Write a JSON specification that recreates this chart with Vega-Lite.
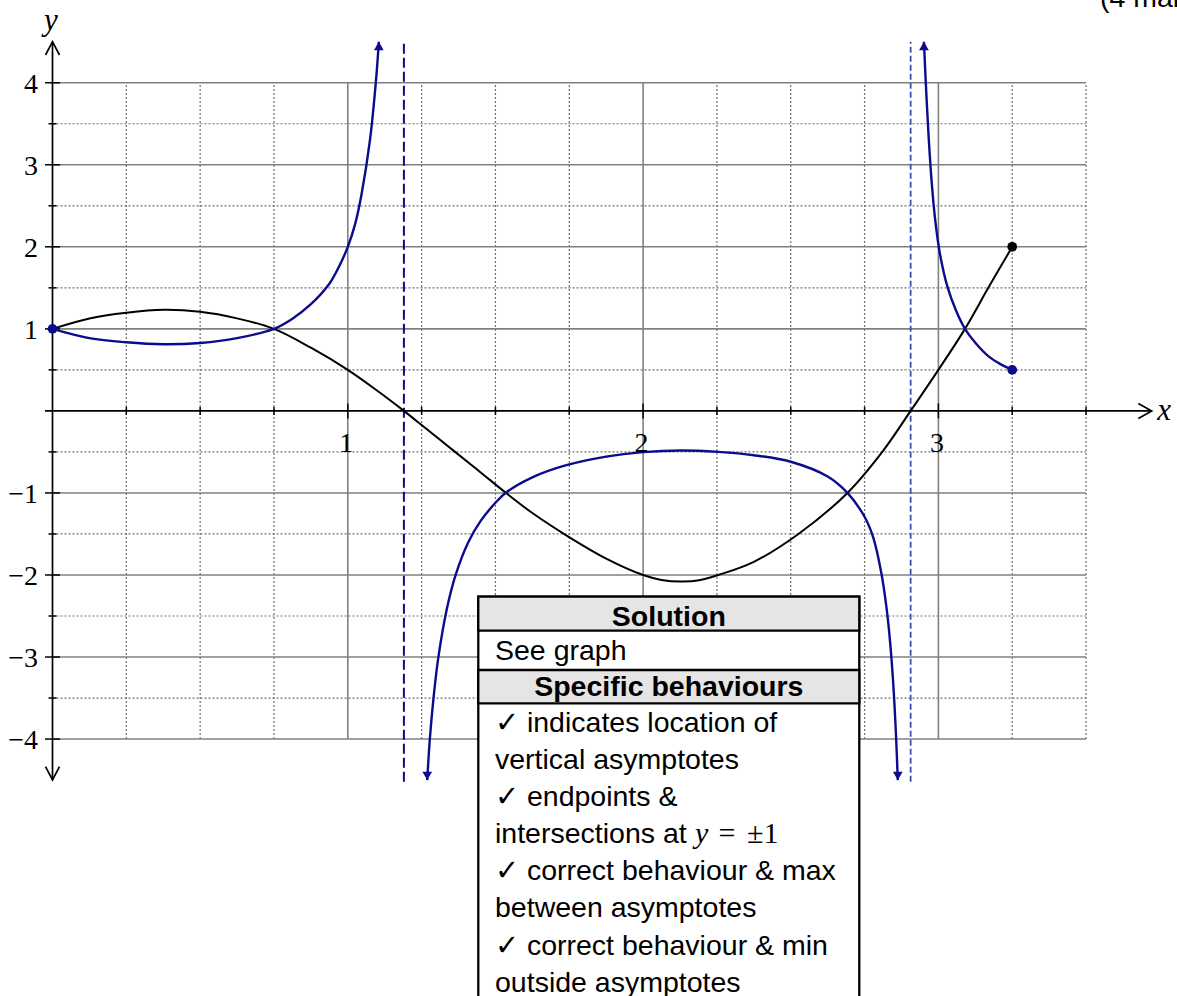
{
  "$schema": "https://vega.github.io/schema/vega-lite/v6.json",
  "width": 1177,
  "height": 996,
  "autosize": {"type": "none"},
  "padding": 0,
  "background": "white",
  "config": {"view": {"stroke": null}},
  "datasets": {
    "gridDot": [
      {"x": 0.25, "x2": 0.25, "y": -4, "y2": 4},
      {"x": 0.5, "x2": 0.5, "y": -4, "y2": 4},
      {"x": 0.75, "x2": 0.75, "y": -4, "y2": 4},
      {"x": 1.25, "x2": 1.25, "y": -4, "y2": 4},
      {"x": 1.5, "x2": 1.5, "y": -4, "y2": 4},
      {"x": 1.75, "x2": 1.75, "y": -4, "y2": 4},
      {"x": 2.25, "x2": 2.25, "y": -4, "y2": 4},
      {"x": 2.5, "x2": 2.5, "y": -4, "y2": 4},
      {"x": 2.75, "x2": 2.75, "y": -4, "y2": 4},
      {"x": 3.25, "x2": 3.25, "y": -4, "y2": 4},
      {"x": 3.5, "x2": 3.5, "y": -4, "y2": 4},
      {"x": 0, "x2": 3.5, "y": -3.5, "y2": -3.5},
      {"x": 0, "x2": 3.5, "y": -2.5, "y2": -2.5},
      {"x": 0, "x2": 3.5, "y": -1.5, "y2": -1.5},
      {"x": 0, "x2": 3.5, "y": -0.5, "y2": -0.5},
      {"x": 0, "x2": 3.5, "y": 0.5, "y2": 0.5},
      {"x": 0, "x2": 3.5, "y": 1.5, "y2": 1.5},
      {"x": 0, "x2": 3.5, "y": 2.5, "y2": 2.5},
      {"x": 0, "x2": 3.5, "y": 3.5, "y2": 3.5}
    ],
    "gridSolid": [
      {"x": 1, "x2": 1, "y": -4, "y2": 4},
      {"x": 2, "x2": 2, "y": -4, "y2": 4},
      {"x": 3, "x2": 3, "y": -4, "y2": 4},
      {"x": 0, "x2": 3.5, "y": -4, "y2": -4},
      {"x": 0, "x2": 3.5, "y": -3, "y2": -3},
      {"x": 0, "x2": 3.5, "y": -2, "y2": -2},
      {"x": 0, "x2": 3.5, "y": -1, "y2": -1},
      {"x": 0, "x2": 3.5, "y": 1, "y2": 1},
      {"x": 0, "x2": 3.5, "y": 2, "y2": 2},
      {"x": 0, "x2": 3.5, "y": 3, "y2": 3},
      {"x": 0, "x2": 3.5, "y": 4, "y2": 4}
    ],
    "ticks": [
      {"x": 0.25, "x2": 0.25, "y": -0.049, "y2": 0.049},
      {"x": 0.5, "x2": 0.5, "y": -0.049, "y2": 0.049},
      {"x": 0.75, "x2": 0.75, "y": -0.049, "y2": 0.049},
      {"x": 1, "x2": 1, "y": -0.0914, "y2": 0.0914},
      {"x": 1.25, "x2": 1.25, "y": -0.049, "y2": 0.049},
      {"x": 1.5, "x2": 1.5, "y": -0.049, "y2": 0.049},
      {"x": 1.75, "x2": 1.75, "y": -0.049, "y2": 0.049},
      {"x": 2, "x2": 2, "y": -0.0914, "y2": 0.0914},
      {"x": 2.25, "x2": 2.25, "y": -0.049, "y2": 0.049},
      {"x": 2.5, "x2": 2.5, "y": -0.049, "y2": 0.049},
      {"x": 2.75, "x2": 2.75, "y": -0.049, "y2": 0.049},
      {"x": 3, "x2": 3, "y": -0.0914, "y2": 0.0914},
      {"x": 3.25, "x2": 3.25, "y": -0.049, "y2": 0.049},
      {"x": 3.5, "x2": 3.5, "y": -0.049, "y2": 0.049},
      {"x": -0.0254, "x2": 0.0254, "y": -4, "y2": -4},
      {"x": -0.0135, "x2": 0.0135, "y": -3.5, "y2": -3.5},
      {"x": -0.0254, "x2": 0.0254, "y": -3, "y2": -3},
      {"x": -0.0135, "x2": 0.0135, "y": -2.5, "y2": -2.5},
      {"x": -0.0254, "x2": 0.0254, "y": -2, "y2": -2},
      {"x": -0.0135, "x2": 0.0135, "y": -1.5, "y2": -1.5},
      {"x": -0.0254, "x2": 0.0254, "y": -1, "y2": -1},
      {"x": -0.0135, "x2": 0.0135, "y": -0.5, "y2": -0.5},
      {"x": -0.0135, "x2": 0.0135, "y": 0.5, "y2": 0.5},
      {"x": -0.0254, "x2": 0.0254, "y": 1, "y2": 1},
      {"x": -0.0135, "x2": 0.0135, "y": 1.5, "y2": 1.5},
      {"x": -0.0254, "x2": 0.0254, "y": 2, "y2": 2},
      {"x": -0.0135, "x2": 0.0135, "y": 2.5, "y2": 2.5},
      {"x": -0.0254, "x2": 0.0254, "y": 3, "y2": 3},
      {"x": -0.0135, "x2": 0.0135, "y": 3.5, "y2": 3.5},
      {"x": -0.0254, "x2": 0.0254, "y": 4, "y2": 4}
    ],
    "axes": [
      {"id": "xa", "o": 0, "x": -0.0254, "y": 0},
      {"id": "xa", "o": 1, "x": 3.7223, "y": 0},
      {"id": "xh", "o": 0, "x": 3.677, "y": 0.0914},
      {"id": "xh", "o": 1, "x": 3.7223, "y": 0},
      {"id": "xh", "o": 2, "x": 3.677, "y": -0.0914},
      {"id": "ya", "o": 0, "x": 0, "y": -4.499},
      {"id": "ya", "o": 1, "x": 0, "y": 4.5},
      {"id": "yt", "o": 0, "x": -0.0237, "y": 4.338},
      {"id": "yt", "o": 1, "x": 0, "y": 4.5},
      {"id": "yt", "o": 2, "x": 0.0237, "y": 4.338},
      {"id": "yb", "o": 0, "x": -0.0237, "y": -4.337},
      {"id": "yb", "o": 1, "x": 0, "y": -4.499},
      {"id": "yb", "o": 2, "x": 0.0237, "y": -4.337}
    ],
    "asymptotes": [
      {"side": "L", "x": 1.19, "y": -4.52, "y2": 4.5},
      {"side": "R", "x": 2.906, "y": -4.52, "y2": 4.5}
    ],
    "f": [
      {"x": 0, "y": 1.0}, {"x": 0.125, "y": 1.127}, {"x": 0.25, "y": 1.196},
      {"x": 0.376, "y": 1.232}, {"x": 0.5, "y": 1.208}, {"x": 0.625, "y": 1.128},
      {"x": 0.75, "y": 1.0}, {"x": 0.875, "y": 0.77}, {"x": 1.0, "y": 0.5},
      {"x": 1.1, "y": 0.245}, {"x": 1.19, "y": 0.0}, {"x": 1.25, "y": -0.172},
      {"x": 1.36, "y": -0.49}, {"x": 1.45, "y": -0.75}, {"x": 1.534, "y": -0.995},
      {"x": 1.625, "y": -1.245}, {"x": 1.737, "y": -1.51}, {"x": 1.875, "y": -1.8},
      {"x": 2.0, "y": -2.0}, {"x": 2.0625, "y": -2.06}, {"x": 2.128, "y": -2.08},
      {"x": 2.19, "y": -2.065}, {"x": 2.255, "y": -2.0}, {"x": 2.375, "y": -1.84},
      {"x": 2.526, "y": -1.5}, {"x": 2.692, "y": -1.0}, {"x": 2.81, "y": -0.5},
      {"x": 2.906, "y": 0.0}, {"x": 3.0, "y": 0.5}, {"x": 3.09, "y": 1.0},
      {"x": 3.169, "y": 1.5}, {"x": 3.25, "y": 2.0}
    ],
    "g": [
      {"seg": "A", "x": 0, "y": 1.0}, {"seg": "A", "x": 0.125, "y": 0.887},
      {"seg": "A", "x": 0.25, "y": 0.836}, {"seg": "A", "x": 0.376, "y": 0.812},
      {"seg": "A", "x": 0.5, "y": 0.828}, {"seg": "A", "x": 0.625, "y": 0.887},
      {"seg": "A", "x": 0.75, "y": 1.0}, {"seg": "A", "x": 0.8125, "y": 1.124},
      {"seg": "A", "x": 0.875, "y": 1.3}, {"seg": "A", "x": 0.9375, "y": 1.55},
      {"seg": "A", "x": 0.97, "y": 1.757}, {"seg": "A", "x": 1.0, "y": 2.0},
      {"seg": "A", "x": 1.025, "y": 2.28}, {"seg": "A", "x": 1.047, "y": 2.65},
      {"seg": "A", "x": 1.075, "y": 3.3}, {"seg": "A", "x": 1.096, "y": 4.05},
      {"seg": "A", "x": 1.105, "y": 4.5},
      {"seg": "B", "x": 1.269, "y": -4.5}, {"seg": "B", "x": 1.278, "y": -3.99},
      {"seg": "B", "x": 1.29, "y": -3.51}, {"seg": "B", "x": 1.306, "y": -3.02},
      {"seg": "B", "x": 1.335, "y": -2.42}, {"seg": "B", "x": 1.366, "y": -1.99},
      {"seg": "B", "x": 1.408, "y": -1.6}, {"seg": "B", "x": 1.45, "y": -1.34},
      {"seg": "B", "x": 1.5, "y": -1.12}, {"seg": "B", "x": 1.534, "y": -1.0},
      {"seg": "B", "x": 1.625, "y": -0.81}, {"seg": "B", "x": 1.737, "y": -0.665},
      {"seg": "B", "x": 1.875, "y": -0.557}, {"seg": "B", "x": 2.0, "y": -0.502},
      {"seg": "B", "x": 2.128, "y": -0.482}, {"seg": "B", "x": 2.255, "y": -0.5},
      {"seg": "B", "x": 2.375, "y": -0.54}, {"seg": "B", "x": 2.5, "y": -0.62},
      {"seg": "B", "x": 2.625, "y": -0.8}, {"seg": "B", "x": 2.692, "y": -1.0},
      {"seg": "B", "x": 2.75, "y": -1.29}, {"seg": "B", "x": 2.78, "y": -1.55},
      {"seg": "B", "x": 2.808, "y": -2.0}, {"seg": "B", "x": 2.825, "y": -2.42},
      {"seg": "B", "x": 2.836, "y": -2.8}, {"seg": "B", "x": 2.847, "y": -3.32},
      {"seg": "B", "x": 2.856, "y": -3.92}, {"seg": "B", "x": 2.8625, "y": -4.5},
      {"seg": "C", "x": 2.951, "y": 4.5}, {"seg": "C", "x": 2.958, "y": 3.95},
      {"seg": "C", "x": 2.966, "y": 3.4}, {"seg": "C", "x": 2.977, "y": 2.8},
      {"seg": "C", "x": 2.99, "y": 2.3}, {"seg": "C", "x": 3.005, "y": 1.92},
      {"seg": "C", "x": 3.03, "y": 1.52}, {"seg": "C", "x": 3.06, "y": 1.22},
      {"seg": "C", "x": 3.09, "y": 1.0}, {"seg": "C", "x": 3.125, "y": 0.83},
      {"seg": "C", "x": 3.169, "y": 0.667}, {"seg": "C", "x": 3.21, "y": 0.57},
      {"seg": "C", "x": 3.25, "y": 0.5}
    ],
    "dots": [
      {"curve": "f", "x": 3.25, "y": 2.0},
      {"curve": "1/f", "x": 0, "y": 1.0},
      {"curve": "1/f", "x": 3.25, "y": 0.5}
    ],
    "arrows": [
      {"dir": "up", "x": 1.105, "y": 4.5},
      {"dir": "up", "x": 2.951, "y": 4.5},
      {"dir": "down", "x": 1.269, "y": -4.5},
      {"dir": "down", "x": 2.8625, "y": -4.5}
    ],
    "ylabels": [
      {"x": -0.049, "y": 4, "t": "4"}, {"x": -0.049, "y": 3, "t": "3"},
      {"x": -0.049, "y": 2, "t": "2"}, {"x": -0.049, "y": 1, "t": "1"},
      {"x": -0.049, "y": -1, "t": "−1"}, {"x": -0.049, "y": -2, "t": "−2"},
      {"x": -0.049, "y": -3, "t": "−3"}, {"x": -0.049, "y": -4, "t": "−4"}
    ],
    "xlabels": [
      {"x": 0.995, "y": -0.495, "t": "1"},
      {"x": 1.995, "y": -0.495, "t": "2"},
      {"x": 2.995, "y": -0.495, "t": "3"}
    ],
    "axisNames": [
      {"x": -0.0051, "y": 4.646, "t": "y"},
      {"x": 3.764, "y": -0.111, "t": "x"}
    ],
    "tableBoxes": [
      {"part": "frame", "x": 1.4419, "x2": 2.7321, "y": -2.2647, "y2": -7.4},
      {"part": "head", "x": 1.4419, "x2": 2.7321, "y": -2.2647, "y2": -2.679},
      {"part": "head", "x": 1.4419, "x2": 2.7321, "y": -3.158, "y2": -3.564}
    ],
    "tableText": [
      {"role": "head", "x": 2.0871, "y": -2.622, "t": "Solution"},
      {"role": "head", "x": 2.0871, "y": -3.475, "t": "Specific behaviours"},
      {"role": "body", "x": 1.4985, "y": -3.036, "t": "See graph"},
      {"role": "body", "x": 1.4985, "y": -3.908, "t": "✓ indicates location of"},
      {"role": "body", "x": 1.4985, "y": -4.361, "t": "vertical asymptotes"},
      {"role": "body", "x": 1.4985, "y": -4.815, "t": "✓ endpoints &"},
      {"role": "body", "x": 1.4985, "y": -5.268, "t": "intersections at"},
      {"role": "body", "x": 1.4985, "y": -5.722, "t": "✓ correct behaviour & max"},
      {"role": "body", "x": 1.4985, "y": -6.175, "t": "between asymptotes"},
      {"role": "body", "x": 1.4985, "y": -6.629, "t": "✓ correct behaviour & min"},
      {"role": "body", "x": 1.4985, "y": -7.082, "t": "outside asymptotes"},
      {"role": "mathVar", "x": 2.1758, "y": -5.268, "t": "y"},
      {"role": "mathOp", "x": 2.255, "y": -5.268, "t": "="},
      {"role": "mathOp", "x": 2.352, "y": -5.268, "t": "±1"},
      {"role": "note", "x": 3.5473, "y": 4.9196, "t": "(4 marks)"}
    ]
  },
  "encoding": {
    "x": {"field": "x", "type": "quantitative", "scale": {"domain": [-0.1778, 3.808], "nice": false, "zero": false}, "axis": null},
    "y": {"field": "y", "type": "quantitative", "scale": {"domain": [-7.1319, 5.0085], "nice": false, "zero": false}, "axis": null}
  },
  "layer": [
    {
      "data": {"name": "gridDot"},
      "mark": {"type": "rule", "stroke": "#6f6f6f", "strokeWidth": 1.2, "strokeDash": [2, 2]},
      "encoding": {"x2": {"field": "x2"}, "y2": {"field": "y2"}}
    },
    {
      "data": {"name": "gridSolid"},
      "mark": {"type": "rule", "stroke": "#808080", "strokeWidth": 1.6},
      "encoding": {"x2": {"field": "x2"}, "y2": {"field": "y2"}}
    },
    {
      "data": {"name": "axes"},
      "mark": {"type": "line", "stroke": "#000000", "strokeWidth": 1.7},
      "encoding": {"detail": {"field": "id"}, "order": {"field": "o"}}
    },
    {
      "data": {"name": "ticks"},
      "mark": {"type": "rule", "stroke": "#000000", "strokeWidth": 1.5},
      "encoding": {"x2": {"field": "x2"}, "y2": {"field": "y2"}}
    },
    {
      "data": {"name": "asymptotes"},
      "transform": [{"filter": "datum.side === 'L'"}],
      "mark": {"type": "rule", "stroke": "#0b0b8c", "strokeWidth": 2, "strokeDash": [10, 4]},
      "encoding": {"y2": {"field": "y2"}}
    },
    {
      "data": {"name": "asymptotes"},
      "transform": [{"filter": "datum.side === 'R'"}],
      "mark": {"type": "rule", "stroke": "#3f4db8", "strokeWidth": 1.8, "strokeDash": [6, 3]},
      "encoding": {"y2": {"field": "y2"}}
    },
    {
      "data": {"name": "f"},
      "mark": {"type": "line", "interpolate": "catmull-rom", "stroke": "#000000", "strokeWidth": 2}
    },
    {
      "data": {"name": "g"},
      "mark": {"type": "line", "interpolate": "catmull-rom", "stroke": "#0b0b8c", "strokeWidth": 2.4},
      "encoding": {"detail": {"field": "seg"}}
    },
    {
      "data": {"name": "dots"},
      "mark": {"type": "point", "filled": true, "size": 95, "opacity": 1, "strokeWidth": 0},
      "encoding": {
        "color": {"field": "curve", "type": "nominal", "scale": {"domain": ["f", "1/f"], "range": ["#000000", "#0b0b8c"]}, "legend": null}
      }
    },
    {
      "data": {"name": "arrows"},
      "transform": [{"filter": "datum.dir === 'up'"}],
      "mark": {"type": "point", "shape": "triangle-up", "filled": true, "size": 95, "opacity": 1, "color": "#0b0b8c", "yOffset": 4.2}
    },
    {
      "data": {"name": "arrows"},
      "transform": [{"filter": "datum.dir === 'down'"}],
      "mark": {"type": "point", "shape": "triangle-down", "filled": true, "size": 95, "opacity": 1, "color": "#0b0b8c", "yOffset": -4.2}
    },
    {
      "data": {"name": "ylabels"},
      "mark": {"type": "text", "font": "Liberation Serif", "fontSize": 28, "align": "right", "baseline": "middle", "dy": 2, "color": "#000000"},
      "encoding": {"text": {"field": "t"}}
    },
    {
      "data": {"name": "xlabels"},
      "mark": {"type": "text", "font": "Liberation Serif", "fontSize": 28, "align": "center", "baseline": "alphabetic", "color": "#000000"},
      "encoding": {"text": {"field": "t"}}
    },
    {
      "data": {"name": "axisNames"},
      "mark": {"type": "text", "font": "Liberation Serif", "fontStyle": "italic", "fontSize": 31, "align": "center", "baseline": "alphabetic", "color": "#000000"},
      "encoding": {"text": {"field": "t"}}
    },
    {
      "data": {"name": "tableBoxes"},
      "transform": [{"filter": "datum.part === 'frame'"}],
      "mark": {"type": "rect", "fill": "#ffffff", "stroke": "#000000", "strokeWidth": 2.3, "clip": true},
      "encoding": {"x2": {"field": "x2"}, "y2": {"field": "y2"}}
    },
    {
      "data": {"name": "tableBoxes"},
      "transform": [{"filter": "datum.part === 'head'"}],
      "mark": {"type": "rect", "fill": "#e5e5e5", "stroke": "#000000", "strokeWidth": 2.3, "clip": true},
      "encoding": {"x2": {"field": "x2"}, "y2": {"field": "y2"}}
    },
    {
      "data": {"name": "tableText"},
      "transform": [{"filter": "datum.role === 'head'"}],
      "mark": {"type": "text", "font": "Liberation Sans", "fontWeight": "bold", "fontSize": 28.5, "align": "center", "baseline": "alphabetic", "color": "#000000", "clip": true},
      "encoding": {"text": {"field": "t"}}
    },
    {
      "data": {"name": "tableText"},
      "transform": [{"filter": "datum.role === 'body' || datum.role === 'note'"}],
      "mark": {"type": "text", "font": "Liberation Sans", "fontSize": 28.5, "align": "left", "baseline": "alphabetic", "color": "#000000", "clip": true},
      "encoding": {"text": {"field": "t"}}
    },
    {
      "data": {"name": "tableText"},
      "transform": [{"filter": "datum.role === 'mathVar'"}],
      "mark": {"type": "text", "font": "Liberation Serif", "fontStyle": "italic", "fontSize": 30, "align": "left", "baseline": "alphabetic", "color": "#000000", "clip": true},
      "encoding": {"text": {"field": "t"}}
    },
    {
      "data": {"name": "tableText"},
      "transform": [{"filter": "datum.role === 'mathOp'"}],
      "mark": {"type": "text", "font": "Liberation Serif", "fontSize": 30, "align": "left", "baseline": "alphabetic", "color": "#000000", "clip": true},
      "encoding": {"text": {"field": "t"}}
    }
  ]
}
